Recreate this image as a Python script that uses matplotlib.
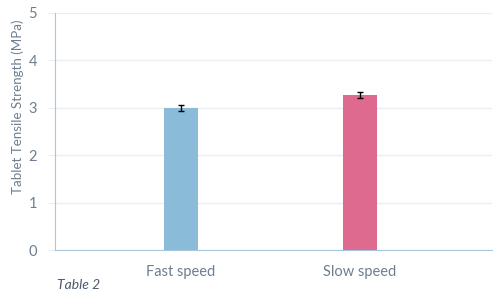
import matplotlib.pyplot as plt
import numpy as np

# Data
categories = ["Fast speed", "Slow speed"]
values = [3.0, 3.27]
errors = [0.06, 0.07]
colors = ["#8abbd8", "#de6a8f"]

plt.rcParams['font.family'] = ['Lato', 'DejaVu Sans']

text_col = "#6e7e90"
axis_col = "#a9c6da"
grid_col = "#e9eef3"

fig = plt.figure(figsize=(4.94, 2.93), dpi=100)
ax = fig.add_axes([55 / 494, 43 / 293, 437 / 494, 237 / 293])

x = np.arange(len(categories))
ax.bar(x, values, 0.19, color=colors, zorder=3)
ax.errorbar(x, values, yerr=errors, fmt="none", ecolor="black",
            elinewidth=1, capsize=2.5, capthick=1, zorder=4)

ax.set_xlim(-0.704, 1.737)
ax.set_ylim(0, 5)
ax.set_yticks(range(6))
ax.set_xticks(x)
ax.set_xticklabels(categories)

ax.grid(axis="y", color=grid_col, linewidth=1, zorder=0)
for side in ["top", "right"]:
    ax.spines[side].set_visible(False)
ax.spines["left"].set_color(axis_col)
ax.spines["bottom"].set_color(axis_col)

ax.tick_params(axis="y", colors=text_col, labelsize=10.5, length=5,
               color=grid_col, pad=8)
ax.tick_params(axis="x", colors=text_col, labelsize=10.5, length=0, pad=11)
ax.set_ylabel("Tablet Tensile Strength (MPa)", color=text_col, fontsize=9.6)
ax.yaxis.set_label_coords(-0.071, 0.603)

fig.text(57 / 494, 1 - 285 / 293, "Table 2", fontsize=10, style="italic",
         color="#4a5a6c", va="center", ha="left")

fig.savefig("out.png", dpi=100)
